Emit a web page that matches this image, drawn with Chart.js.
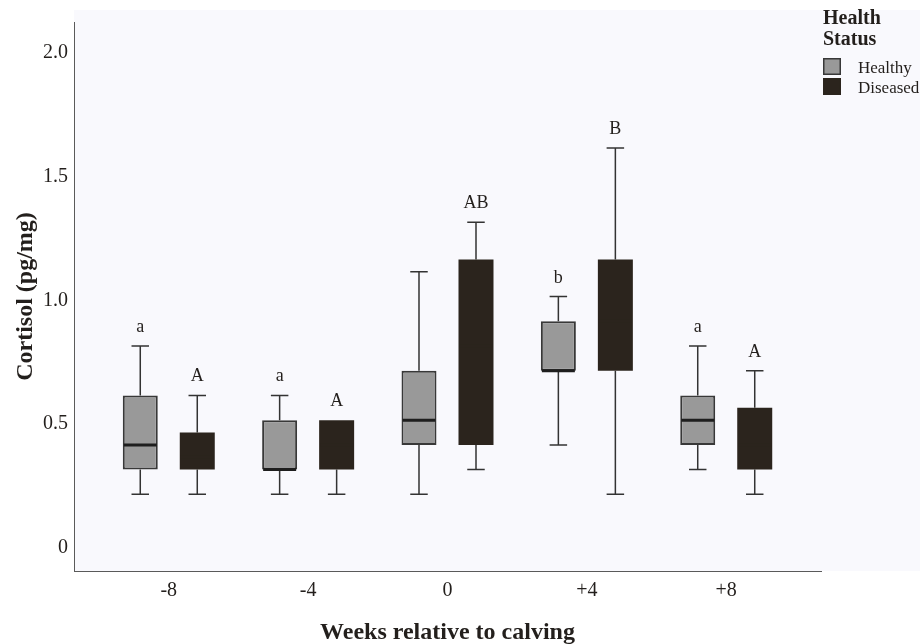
<!DOCTYPE html>
<html>
<head>
<meta charset="utf-8">
<script src="https://cdn.jsdelivr.net/npm/chart.js@4.4.1/dist/chart.umd.min.js"></script>
<style>
  html, body { margin: 0; padding: 0; background: #fff; }
  #wrap { width: 920px; height: 644px; }
</style>
</head>
<body>
<div id="wrap"><canvas id="chart" width="920" height="644"></canvas></div>
<script>
// Cortisol box plots by week relative to calving, healthy vs diseased cows.
const weeks = ['-8', '-4', '0', '+4', '+8'];

// five-number summaries (pg/mg)
const healthyMin = [0.2, 0.2, 0.2, 0.4, 0.3];
const healthyQ1  = [0.3, 0.3, 0.4, 0.7, 0.4];
const healthyMed = [0.4, 0.3, 0.5, 0.7, 0.5];
const healthyQ3  = [0.6, 0.5, 0.7, 0.9, 0.6];
const healthyMax = [0.8, 0.6, 1.1, 1.0, 0.8];

const diseasedMin = [0.2, 0.2, 0.3, 0.2, 0.2];
const diseasedQ1  = [0.3, 0.3, 0.4, 0.7, 0.3];
const diseasedMed = [0.35, 0.4, 0.8, 0.9, 0.4]; // hidden by the dark fill, estimated
const diseasedQ3  = [0.45, 0.5, 1.15, 1.15, 0.55];
const diseasedMax = [0.6, 0.5, 1.3, 1.6, 0.7];

// significance letters over each box
const healthyLetters  = ['a', 'a', '', 'b', 'a'];
const diseasedLetters = ['A', 'A', 'AB', 'B', 'A'];

const yTicks = [0, 0.5, 1.0, 1.5, 2.0];
const yTickLabels = ['0', '0.5', '1.0', '1.5', '2.0'];

const SERIF = "'Liberation Serif', 'Times New Roman', serif";
const INK = '#231f1c';

const makeSet = (label, q1, q3, min, med, max, letters, fill, edge, edgeWidth, medColor) => ({
  label,
  data: weeks.map((_, i) => ({ x: i, y: [q1[i], q3[i]] })),
  stats: { q1, q3, min, med, max, letters, medColor },
  backgroundColor: fill,
  borderColor: edge,
  borderWidth: edgeWidth,
});

// light panel behind the plot, runs out under the legend
const panelBg = {
  id: 'panelBg',
  beforeDraw(chart) {
    const { ctx, chartArea } = chart;
    ctx.save();
    ctx.fillStyle = '#f9f9fd';
    ctx.fillRect(chartArea.left, 10, chart.width - chartArea.left, chartArea.bottom - 10);
    ctx.restore();
  },
};

// whiskers behind the boxes, medians + letters on top
const boxParts = {
  id: 'boxParts',
  beforeDatasetsDraw(chart) {
    const { ctx } = chart;
    const y = chart.scales.y;
    ctx.save();
    ctx.strokeStyle = '#333';
    ctx.lineWidth = 1.5;
    chart.data.datasets.forEach((ds, di) => {
      const s = ds.stats;
      chart.getDatasetMeta(di).data.forEach((bar, i) => {
        const { x, width } = bar.getProps(['x', 'width'], true);
        const cap = width / 4;
        ctx.beginPath();
        if (s.max[i] > s.q3[i]) {
          const top = y.getPixelForValue(s.max[i]);
          ctx.moveTo(x, top); ctx.lineTo(x, y.getPixelForValue(s.q3[i]));
          ctx.moveTo(x - cap, top); ctx.lineTo(x + cap, top);
        }
        if (s.min[i] < s.q1[i]) {
          const bot = y.getPixelForValue(s.min[i]);
          ctx.moveTo(x, bot); ctx.lineTo(x, y.getPixelForValue(s.q1[i]));
          ctx.moveTo(x - cap, bot); ctx.lineTo(x + cap, bot);
        }
        ctx.stroke();
      });
    });
    ctx.restore();
  },
  afterDatasetsDraw(chart) {
    const { ctx } = chart;
    const y = chart.scales.y;
    ctx.save();
    chart.data.datasets.forEach((ds, di) => {
      chart.getDatasetMeta(di).data.forEach((bar, i) => {
        const { x, width } = bar.getProps(['x', 'width'], true);
        const m = y.getPixelForValue(ds.stats.med[i]);
        ctx.strokeStyle = ds.stats.medColor;
        ctx.lineWidth = 3;
        ctx.beginPath();
        ctx.moveTo(x - width / 2 + 1, m); ctx.lineTo(x + width / 2 - 1, m);
        ctx.stroke();

        const letter = ds.stats.letters[i];
        if (letter) {
          ctx.fillStyle = INK;
          ctx.font = `18px ${SERIF}`;
          ctx.textAlign = 'center';
          ctx.textBaseline = 'alphabetic';
          ctx.fillText(letter, x, y.getPixelForValue(ds.stats.max[i]) - 14);
        }
      });
    });
    ctx.restore();
  },
};

// "Health Status" key in the top right corner
const sideLegend = {
  id: 'sideLegend',
  afterDraw(chart) {
    const { ctx } = chart;
    const left = chart.chartArea.right + 2;
    ctx.save();
    ctx.fillStyle = INK;
    ctx.textAlign = 'left';
    ctx.textBaseline = 'middle';
    ctx.font = `bold 20px ${SERIF}`;
    ctx.fillText('Health', left, 19);
    ctx.fillText('Status', left, 40);
    ctx.font = `17px ${SERIF}`;
    chart.data.datasets.forEach((ds, i) => {
      const top = 58 + i * 20;
      ctx.fillStyle = ds.backgroundColor;
      ctx.fillRect(left, top, 18, 17);
      ctx.strokeStyle = ds.borderColor;
      ctx.lineWidth = 1.5;
      ctx.strokeRect(left + 0.75, top + 0.75, 16.5, 15.5);
      ctx.fillStyle = INK;
      ctx.fillText(ds.label, left + 35, top + 11);
    });
    ctx.restore();
  },
};

new Chart(document.getElementById('chart'), {
  type: 'bar',
  data: {
    datasets: [
      makeSet('Healthy', healthyQ1, healthyQ3, healthyMin, healthyMed, healthyMax, healthyLetters, '#999999', '#383838', 2, '#1e1e1e'),
      makeSet('Diseased', diseasedQ1, diseasedQ3, diseasedMin, diseasedMed, diseasedMax, diseasedLetters, '#2b241d', '#2b241d', 0, '#2b241d'),
    ],
  },
  options: {
    responsive: false,
    animation: false,
    layout: { padding: { top: 22, right: 99, left: 0, bottom: 0 } },
    datasets: {
      bar: { categoryPercentage: 0.818, barPercentage: 0.614, borderSkipped: false },
    },
    plugins: { legend: { display: false }, tooltip: { enabled: false } },
    scales: {
      x: {
        type: 'linear', min: -0.68, max: 4.68, offset: false,
        afterBuildTicks: (s) => { s.ticks = weeks.map((_, i) => ({ value: i })); },
        afterFit: (s) => { s.height = 73; },
        grid: { display: false, drawTicks: false, offset: false },
        border: { display: true, color: '#5a5a5a', width: 1 },
        ticks: {
          autoSkip: false, maxRotation: 0, padding: 8, color: INK,
          font: { family: SERIF, size: 20 },
          callback: (v) => weeks[v] ?? '',
        },
        title: {
          display: true, text: 'Weeks relative to calving', color: INK,
          font: { family: SERIF, size: 24, weight: 'bold', lineHeight: 0.9 }, padding: { top: 0, bottom: 0 },
        },
      },
      y: {
        min: -0.11, max: 2.11,
        afterBuildTicks: (s) => { s.ticks = yTicks.map((v) => ({ value: v })); },
        afterFit: (s) => { s.width = 74; },
        grid: { display: false, drawTicks: false },
        border: { display: true, color: '#5a5a5a', width: 1 },
        ticks: {
          padding: 6, labelOffset: 4, color: INK,
          font: { family: SERIF, size: 20 },
          callback: (v) => yTickLabels[yTicks.indexOf(v)] ?? '',
        },
        title: {
          display: true, text: 'Cortisol (pg/mg)', color: INK,
          font: { family: SERIF, size: 24, weight: 'bold' }, padding: { top: 11, bottom: 0 },
        },
      },
    },
  },
  plugins: [panelBg, boxParts, sideLegend],
});
</script>
</body>
</html>
